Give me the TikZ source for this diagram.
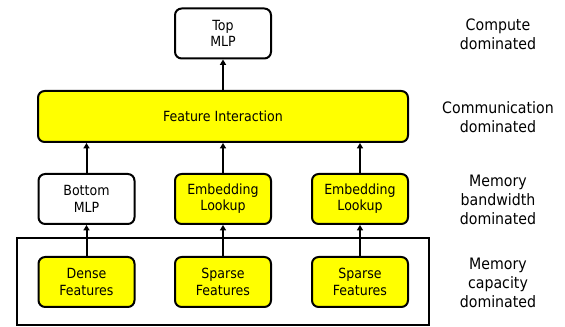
\documentclass[tikz,border=0pt]{standalone}
\usepackage{fontspec}
\setmainfont{DejaVu Sans Condensed}
\usetikzlibrary{arrows.meta}
\definecolor{hl}{HTML}{FFFF00}
\begin{document}
\begin{tikzpicture}[x=0.75pt,y=-0.75pt,
  blk/.style={draw, line width=1.5pt, rounded corners=5pt, minimum width=72pt, minimum height=37.5pt, inner sep=0pt, align=center, font=\fontsize{10.5}{12.2}\selectfont},
  yel/.style={blk, fill=hl},
  lbl/.style={align=center, font=\fontsize{11.8}{14.25}\selectfont},
  arr/.style={line width=1.5pt, -{Triangle[length=4pt,width=4.5pt]}}]
\useasboundingbox (0,0) rectangle (565,327);
\node[draw, line width=1.1pt, minimum width=309pt, minimum height=65.25pt, inner sep=0pt] (grp) at (223,281.5) {};
\node[blk] (top) at (223,33.5) {Top\\MLP};
\node[yel, minimum width=277.5pt, minimum height=38.25pt] (fi) at (223,116.5) {Feature Interaction};
\node[blk] (bmlp) at (86.5,199) {Bottom\\MLP};
\node[yel] (emb1) at (223,199) {Embedding\\Lookup};
\node[yel] (emb2) at (360,199) {Embedding\\Lookup};
\node[yel] (dense) at (86.5,282) {Dense\\Features};
\node[yel] (sp1) at (223,282) {Sparse\\Features};
\node[yel] (sp2) at (360,282) {Sparse\\Features};
\draw[arr] (dense) -- (bmlp);
\draw[arr] (sp1) -- (emb1);
\draw[arr] (sp2) -- (emb2);
\draw[arr] (bmlp.north) -- (bmlp.north |- fi.south);
\draw[arr] (emb1) -- (fi);
\draw[arr] (emb2.north) -- (emb2.north |- fi.south);
\draw[arr] (fi) -- (top);
\node[lbl] (l1) at (498,34.5) {Compute\\dominated};
\node[lbl] (l2) at (498,117.5) {Communication\\dominated};
\node[lbl] (l3) at (498,200) {Memory\\bandwidth\\dominated};
\node[lbl] (l4) at (498,283) {Memory\\capacity\\dominated};
\end{tikzpicture}
\end{document}
